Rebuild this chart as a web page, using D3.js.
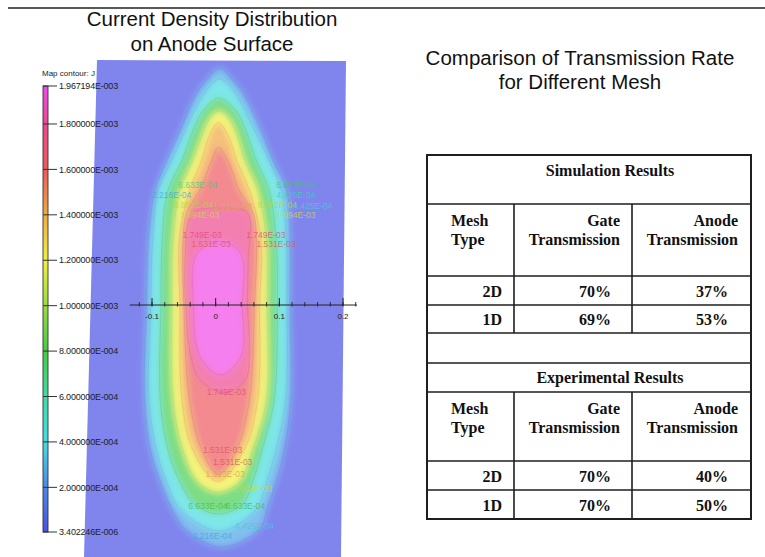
<!DOCTYPE html>
<html>
<head>
<meta charset="utf-8">
<script src="https://cdn.jsdelivr.net/npm/d3@7"></script>
<style>
  body { margin: 0; background: #fff; }
  svg { display: block; font-family: "Liberation Sans", Arial, sans-serif; }
</style>
</head>
<body>
<script>
// colour bar of the contour map (J)
const barTicks = [3.402246e-6, 2e-4, 4e-4, 6e-4, 8e-4, 1e-3, 1.2e-3, 1.4e-3, 1.6e-3, 1.8e-3, 1.967194e-3];
const barColors = ['#4a50e6', '#4a8ae6', '#46dce6', '#40dca4', '#46cc46', '#9cdc40', '#f0f040', '#f0ac40', '#ec5a5a', '#ee4890', '#f048f0'];
const xTicks = [-0.1, 0, 0.1, 0.2];

// contour outlines: [y, xLeft, xRight], tips have xLeft == xRight
const halo = [[0.372, 0.006, 0.006], [0.352, -0.015, 0.028], [0.331, -0.031, 0.044], [0.278, -0.054, 0.070],
  [0.227, -0.077, 0.090], [0.180, -0.095, 0.112], [0.102, -0.106, 0.117], [0, -0.109, 0.117], [-0.148, -0.112, 0.118],
  [-0.227, -0.103, 0.108], [-0.278, -0.087, 0.095], [-0.320, -0.069, 0.081], [-0.352, -0.048, 0.069], [-0.380, 0.009, 0.009]];
const cyan = [[0.355, 0.006, 0.006], [0.340, -0.012, 0.025], [0.315, -0.028, 0.041], [0.278, -0.046, 0.059],
  [0.227, -0.069, 0.084], [0.180, -0.090, 0.103], [0.102, -0.099, 0.111], [0, -0.102, 0.112], [-0.148, -0.105, 0.110],
  [-0.227, -0.093, 0.095], [-0.278, -0.077, 0.080], [-0.320, -0.056, 0.064], [-0.355, 0.006, 0.006]];
const green = [[0.325, 0.005, 0.005], [0.305, -0.020, 0.032], [0.278, -0.034, 0.046], [0.227, -0.053, 0.064],
  [0.180, -0.075, 0.084], [0.102, -0.084, 0.095], [0, -0.086, 0.097], [-0.148, -0.087, 0.092], [-0.227, -0.075, 0.073],
  [-0.278, -0.056, 0.058], [-0.313, -0.033, 0.042], [-0.328, 0.003, 0.003]];
const yellow = [[0.305, 0.005, 0.005], [0.290, -0.011, 0.023], [0.265, -0.022, 0.034], [0.227, -0.036, 0.046],
  [0.180, -0.056, 0.066], [0.102, -0.067, 0.080], [0, -0.069, 0.081], [-0.148, -0.067, 0.080], [-0.227, -0.052, 0.058],
  [-0.278, -0.028, 0.037], [-0.294, 0.003, 0.003]];
const orange = [[0.286, 0.004, 0.004], [0.265, -0.010, 0.020], [0.227, -0.022, 0.033], [0.180, -0.041, 0.053],
  [0.102, -0.057, 0.071], [0, -0.056, 0.069], [-0.148, -0.053, 0.066], [-0.227, -0.036, 0.045], [-0.277, 0.003, 0.003]];
const red = [[0.247, 0.004, 0.004], [0.227, -0.006, 0.019], [0.180, -0.025, 0.037], [0.144, -0.046, 0.059],
  [0.102, -0.051, 0.064], [0, -0.050, 0.061], [-0.148, -0.041, 0.053], [-0.227, -0.022, 0.033], [-0.266, 0.004, 0.004]];
const pink = [[0.152, 0.010, 0.010], [0.144, -0.036, 0.050], [0.070, -0.048, 0.051], [0, -0.047, 0.050],
  [-0.070, -0.041, 0.053], [-0.117, -0.025, 0.047], [-0.138, 0.014, 0.014]];
const core = [[0.100, 0.008, 0.008], [0.080, -0.030, 0.040], [0, -0.035, 0.042], [-0.080, -0.025, 0.040], [-0.110, 0.008, 0.008]];

const levelValues = [2.6e-4, 4.2e-4, 7.8e-4, 1.2e-3, 1.42e-3, 1.62e-3, 1.8e-3, 1.95e-3];
const levelRows = [halo, cyan, green, yellow, orange, red, pink, core];

// contour labels printed on the map: [text, x, y, value]
const contourLabels = [
  ['6.633E-04', -0.059, 0.188, 6.6e-4], ['2.216E-04', -0.100, 0.173, 3e-4], ['8.852E-04', -0.066, 0.157, 1.1e-3],
  ['1.313E-03', -0.004, 0.155, 1.35e-3], ['1.094E-03', -0.056, 0.141, 1.15e-3], ['1.749E-03', -0.052, 0.110, 1.75e-3],
  ['1.531E-03', -0.038, 0.095, 1.6e-3],
  ['6.633E-04', 0.095, 0.188, 7e-4], ['4.425E-04', 0.095, 0.173, 5e-4], ['8.852E-04', 0.066, 0.157, 1.1e-3],
  ['4.425E-04', 0.122, 0.155, 4e-4], ['1.094E-03', 0.095, 0.141, 1.15e-3], ['1.749E-03', 0.048, 0.110, 1.75e-3],
  ['1.531E-03', 0.064, 0.095, 1.6e-3],
  ['1.749E-03', -0.014, -0.136, 1.75e-3],
  ['1.531E-03', -0.020, -0.228, 1.6e-3], ['1.531E-03', -0.004, -0.247, 1.6e-3], ['1.313E-03', -0.016, -0.265, 1.4e-3],
  ['1.094E-03', 0.027, -0.289, 1.15e-3], ['6.633E-04', -0.043, -0.316, 8e-4], ['6.633E-04', 0.016, -0.316, 8e-4],
  ['4.425E-04', 0.030, -0.347, 4e-4], ['2.216E-04', -0.036, -0.363, 3e-4]
];

// table
const headerLines = [['Mesh', 'Type'], ['Gate', 'Transmission'], ['Anode', 'Transmission']];
const meshTypes = ['2D', '1D'];
const simGate = [70, 69];
const simAnode = [37, 53];
const expGate = [70, 70];
const expAnode = [40, 50];

const W = 765, H = 557;
const svg = d3.select('body').append('svg').attr('width', W).attr('height', H);

// top rule
svg.append('line').attr('x1', 8).attr('x2', W).attr('y1', 8).attr('y2', 8)
  .attr('stroke', '#222').attr('stroke-width', 1.3);

// titles
const leftTitle = svg.append('text').attr('text-anchor', 'middle').attr('font-size', 20.5).attr('fill', '#111');
leftTitle.append('tspan').attr('x', 212).attr('y', 26).text('Current Density Distribution');
leftTitle.append('tspan').attr('x', 212).attr('y', 51).text('on Anode Surface');
const rightTitle = svg.append('text').attr('text-anchor', 'middle').attr('font-size', 20.5).attr('fill', '#111');
rightTitle.append('tspan').attr('x', 580).attr('y', 65).text('Comparison of Transmission Rate');
rightTitle.append('tspan').attr('x', 580).attr('y', 89).text('for Different Mesh');

// ---------- contour map ----------
const x = d3.scaleLinear().domain([-0.1, 0.2]).range([152, 343]);
const y = d3.scaleLinear().domain([0, 0.1]).range([305, 241.3]);
const cScale = d3.scaleLinear().domain(barTicks).range(barColors).interpolate(d3.interpolateRgb);
const heat = v => d3.interpolateRgb(cScale(v), '#ffffff')(0.3);

const defs = svg.append('defs');
defs.append('clipPath').attr('id', 'plotclip')
  .append('polygon').attr('points', '97,60 346,61 341,557 84,557');
defs.append('filter').attr('id', 'soft').attr('x', '-20%').attr('y', '-20%').attr('width', '140%').attr('height', '140%')
  .append('feGaussianBlur').attr('stdDeviation', 3.2);

const plot = svg.append('g').attr('clip-path', 'url(#plotclip)');
plot.append('rect').attr('x', 0).attr('y', 0).attr('width', W).attr('height', H).attr('fill', heat(barTicks[0]));

const outline = rows => {
  const left = rows.map(r => [x(r[1]), y(r[0])]);
  const right = rows.slice(1, -1).reverse().map(r => [x(r[2]), y(r[0])]);
  return d3.line().curve(d3.curveCatmullRomClosed.alpha(0.5))(left.concat(right));
};

const levels = levelValues.map((v, i) => ({ value: v, rows: levelRows[i] }));

plot.append('g').attr('filter', 'url(#soft)')
  .selectAll('path').data(levels).join('path')
  .attr('d', d => outline(d.rows))
  .attr('fill', d => heat(d.value));

plot.append('g').selectAll('path').data(levels).join('path')
  .attr('d', d => outline(d.rows))
  .attr('fill', 'none')
  .attr('stroke', d => d3.color(cScale(d.value)).darker(0.8))
  .attr('stroke-opacity', 0.22)
  .attr('stroke-width', 0.8);

plot.append('g').selectAll('text').data(contourLabels).join('text')
  .attr('x', d => x(d[1])).attr('y', d => y(d[2]))
  .attr('dy', '0.35em')
  .attr('font-size', 8.5)
  .attr('fill', d => d3.color(cScale(d[3])).darker(0.2))
  .attr('fill-opacity', 0.75)
  .text(d => d[0]);

// horizontal axis
const axisG = svg.append('g').attr('stroke', '#222');
axisG.append('line').attr('x1', x(-0.135)).attr('x2', x(0.222)).attr('y1', y(0)).attr('y2', y(0)).attr('stroke-width', 1);
const minor = d3.range(-12, 12).map(i => i * 0.02).filter(v => v >= -0.13 && v <= 0.221);
axisG.selectAll('line.minor').data(minor).join('line').attr('class', 'minor')
  .attr('x1', d => x(d)).attr('x2', d => x(d))
  .attr('y1', y(0) - 3).attr('y2', y(0) + 1.5).attr('stroke-width', 0.9);
axisG.selectAll('line.major').data(xTicks).join('line').attr('class', 'major')
  .attr('x1', d => x(d)).attr('x2', d => x(d))
  .attr('y1', y(0) - 7).attr('y2', y(0) + 1).attr('stroke-width', 1);
svg.append('g').selectAll('text').data(xTicks).join('text')
  .attr('x', d => x(d)).attr('y', y(0) + 14)
  .attr('text-anchor', 'middle').attr('font-size', 8).attr('fill', '#222')
  .text(d => d3.format('')(d).replace('−', '-'));

// colour bar
const bar = d3.scaleLinear().domain([barTicks[0], barTicks[barTicks.length - 1]]).range([532, 86]);
const grad = defs.append('linearGradient').attr('id', 'bargrad')
  .attr('x1', 0).attr('x2', 0).attr('y1', 1).attr('y2', 0);
grad.selectAll('stop').data(barTicks).join('stop')
  .attr('offset', d => (d - barTicks[0]) / (barTicks[barTicks.length - 1] - barTicks[0]))
  .attr('stop-color', d => cScale(d));
svg.append('rect').attr('x', 43).attr('y', bar.range()[1]).attr('width', 5)
  .attr('height', bar.range()[0] - bar.range()[1])
  .attr('fill', 'url(#bargrad)').attr('stroke', '#333').attr('stroke-width', 0.9);
const fmtE = v => {
  const [m, e] = v.toExponential(6).split('e');
  const n = parseInt(e, 10);
  return m + 'E' + (n < 0 ? '-' : '+') + String(Math.abs(n)).padStart(3, '0');
};
const tk = svg.append('g').selectAll('g').data(barTicks).join('g')
  .attr('transform', d => `translate(0,${bar(d)})`);
tk.append('line').attr('x1', 43).attr('x2', 57).attr('stroke', '#333').attr('stroke-width', 1);
tk.append('text').attr('x', 59).attr('dy', '0.35em').attr('font-size', 9).attr('fill', '#222')
  .attr('letter-spacing', -0.2).text(d => fmtE(d));
svg.append('text').attr('x', 42).attr('y', 76).attr('font-size', 8).attr('fill', '#222').text('Map contour: J');

// ---------- table ----------
const colX = [427, 514, 632, 751];
const tbl = svg.append('g').attr('font-family', '"Liberation Serif", "Times New Roman", serif')
  .attr('font-weight', 'bold').attr('font-size', 16).attr('fill', '#111');

const sections = [
  { title: 'Simulation Results', titleY: 176, top: 155, titleBottom: 204, headBottom: 276, rows: [305, 333], gate: simGate, anode: simAnode },
  { title: 'Experimental Results', titleY: 383, top: 363, titleBottom: 392, headBottom: 461, rows: [490, 519], gate: expGate, anode: expAnode }
];
const lineC = '#1e1e1e';
sections.forEach(s => {
  tbl.append('text').attr('x', 610).attr('y', s.titleY).attr('text-anchor', 'middle').text(s.title);
  // header
  const hMid = (s.titleBottom + s.headBottom) / 2;
  const headAnchor = [[451, 'start'], [620, 'end'], [738, 'end']];
  headerLines.forEach((hl, ci) => {
    hl.forEach((t, li) => {
      tbl.append('text').attr('x', headAnchor[ci][0]).attr('y', hMid - 10 + li * 19 + (s.top === 155 ? -4 : -3))
        .attr('text-anchor', headAnchor[ci][1]).text(t);
    });
  });
  // data rows
  let prev = s.headBottom;
  s.rows.forEach((rb, ri) => {
    const mid = (prev + rb) / 2 + 6;
    tbl.append('text').attr('x', 502).attr('y', mid).attr('text-anchor', 'end').text(meshTypes[ri]);
    tbl.append('text').attr('x', 611).attr('y', mid).attr('text-anchor', 'end').text(s.gate[ri] + '%');
    tbl.append('text').attr('x', 728).attr('y', mid).attr('text-anchor', 'end').text(s.anode[ri] + '%');
    prev = rb;
  });
  // lines
  const g = svg.append('g').attr('stroke', lineC).attr('stroke-width', 1.6);
  [s.titleBottom, s.headBottom, s.rows[0]].forEach(yy =>
    g.append('line').attr('x1', colX[0]).attr('x2', colX[3]).attr('y1', yy).attr('y2', yy));
  [colX[1], colX[2]].forEach(xx =>
    g.append('line').attr('x1', xx).attr('x2', xx).attr('y1', s.titleBottom).attr('y2', s.rows[1]));
});
const og = svg.append('g').attr('stroke', lineC).attr('stroke-width', 1.6);
[333, 363].forEach(yy => og.append('line').attr('x1', colX[0]).attr('x2', colX[3]).attr('y1', yy).attr('y2', yy));
og.append('rect').attr('x', colX[0]).attr('y', 155).attr('width', colX[3] - colX[0]).attr('height', 519 - 155)
  .attr('fill', 'none').attr('stroke-width', 2);
</script>
</body>
</html>
